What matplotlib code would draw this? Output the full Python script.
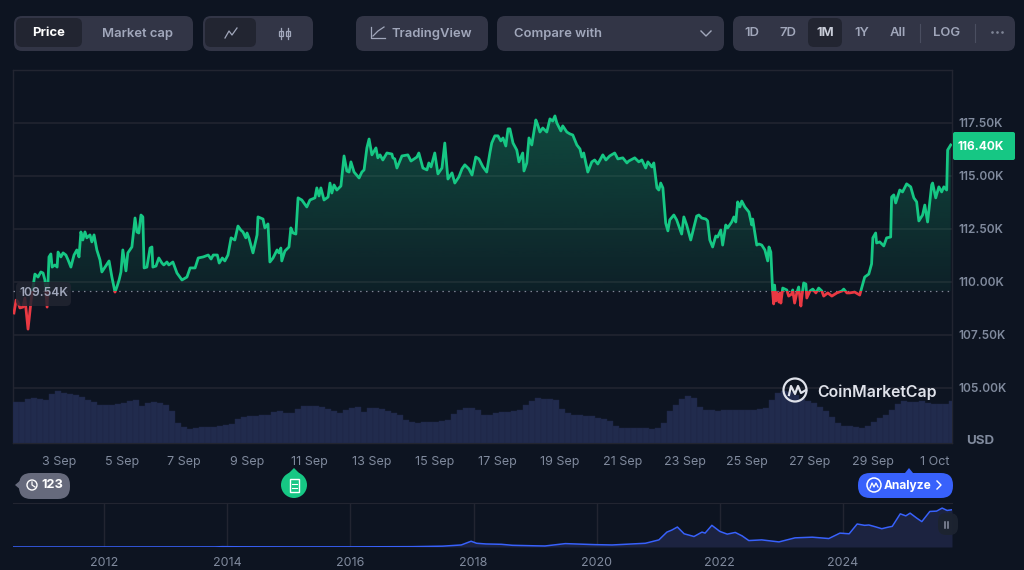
#!/usr/bin/env python3
"""CoinMarketCap style BTC price chart, one month view with volume and navigator."""
import matplotlib

matplotlib.use("Agg")
import matplotlib.pyplot as plt
import numpy as np
from matplotlib.patches import Circle, FancyBboxPatch, Polygon, Rectangle
from matplotlib.ticker import FuncFormatter

plt.rcParams["font.family"] = ["Inter", "DejaVu Sans"]

BG = "#0d1421"
PANEL = "#323546"
ACTIVE = "#222531"
GRID = "#222531"
MUTED = "#a1a7bb"
AXIS_TEXT = "#808a9d"
GREEN = "#16c784"
RED = "#ea3943"
BLUE = "#3861fb"

# price series, x is day of September (1 Oct = 31), y is USD thousands
price_days = [
    1.56, 1.63, 1.69, 1.75, 1.85, 1.91, 2.01, 2.11, 2.20, 2.23, 2.33, 2.42, 2.49, 2.55, 2.62, 2.68,
    2.74, 2.78, 2.87, 2.94, 2.97, 3.06, 3.13, 3.22, 3.29, 3.38, 3.48, 3.57, 3.64, 3.70, 3.76, 3.83,
    3.89, 3.99, 4.05, 4.12, 4.21, 4.31, 4.37, 4.47, 4.60, 4.69, 4.79, 4.85, 4.92, 4.98, 5.04, 5.14,
    5.20, 5.33, 5.43, 5.49, 5.55, 5.62, 5.68, 5.72, 5.81, 5.91, 5.97, 6.00, 6.10, 6.19, 6.29, 6.35,
    6.45, 6.51, 6.64, 6.77, 6.93, 7.09, 7.19, 7.35, 7.45, 7.61, 7.77, 7.86, 7.93, 8.06, 8.12, 8.22,
    8.30, 8.40, 8.50, 8.62, 8.72, 8.81, 8.88, 8.97, 9.01, 9.07, 9.20, 9.33, 9.36, 9.52, 9.58, 9.68,
    9.74, 9.84, 9.97, 10.03, 10.09, 10.12, 10.22, 10.35, 10.41, 10.48, 10.57, 10.64, 10.76, 10.92,
    11.02, 11.18, 11.24, 11.31, 11.37, 11.47, 11.60, 11.66, 11.72, 11.79, 11.88, 12.01, 12.11, 12.20,
    12.27, 12.33, 12.43, 12.59, 12.68, 12.75, 12.84, 12.91, 13.00, 13.13, 13.19, 13.26, 13.35, 13.48,
    13.64, 13.67, 13.73, 13.80, 13.96, 14.15, 14.25, 14.44, 14.50, 14.63, 14.76, 14.82, 14.89, 15.01,
    15.11, 15.24, 15.33, 15.43, 15.56, 15.65, 15.78, 15.88, 15.97, 16.10, 16.20, 16.32, 16.42, 16.55,
    16.67, 16.77, 16.83, 16.93, 17.03, 17.12, 17.19, 17.28, 17.35, 17.41, 17.51, 17.63, 17.70, 17.82,
    17.86, 17.95, 18.02, 18.11, 18.24, 18.30, 18.37, 18.46, 18.59, 18.69, 18.78, 18.85, 18.91, 19.04,
    19.10, 19.23, 19.33, 19.42, 19.55, 19.65, 19.71, 19.77, 19.90, 20.03, 20.12, 20.22, 20.38, 20.48,
    20.60, 20.76, 20.86, 21.02, 21.15, 21.21, 21.40, 21.53, 21.63, 21.75, 21.82, 21.95, 22.01, 22.11,
    22.17, 22.23, 22.30, 22.39, 22.46, 22.52, 22.65, 22.74, 22.90, 22.97, 23.06, 23.19, 23.38, 23.45,
    23.54, 23.67, 23.73, 23.80, 23.89, 23.99, 24.05, 24.15, 24.21, 24.31, 24.37, 24.50, 24.57, 24.63,
    24.69, 24.76, 24.82, 24.92, 25.05, 25.14, 25.17, 25.30, 25.37, 25.46, 25.56, 25.65, 25.69, 25.75,
    25.81, 25.84, 25.87, 25.91, 25.94, 26.01, 26.04, 26.07, 26.13, 26.26, 26.32, 26.42, 26.45, 26.51,
    26.58, 26.64, 26.71, 26.74, 26.80, 26.87, 26.90, 27.00, 27.09, 27.19, 27.28, 27.38, 27.44, 27.57,
    27.70, 27.86, 28.02, 28.08, 28.18, 28.27, 28.43, 28.59, 28.66, 28.75, 28.88, 28.97, 29.01, 29.10,
    29.13, 29.23, 29.36, 29.45, 29.58, 29.61, 29.68, 29.74, 29.87, 29.96, 30.09, 30.22, 30.32, 30.41,
    30.48, 30.60, 30.67, 30.76, 30.89, 30.92, 31.02, 31.12, 31.21, 31.28, 31.37, 31.40, 31.50,
]
price_values = [
    108.52, 109.13, 109.04, 108.76, 108.80, 109.23, 107.76, 109.13, 110.08, 110.36, 110.22, 110.46,
    110.41, 110.08, 108.80, 111.17, 111.31, 110.69, 110.79, 110.69, 111.40, 111.17, 111.36, 111.26,
    111.03, 110.69, 111.26, 111.50, 111.17, 112.35, 111.97, 112.35, 112.07, 112.21, 111.88, 112.21,
    111.50, 111.03, 110.46, 110.69, 110.98, 110.22, 109.51, 109.75, 110.08, 110.46, 111.50, 110.51,
    111.36, 111.64, 113.01, 112.35, 112.30, 113.15, 113.06, 110.65, 110.69, 111.59, 111.64, 110.69,
    110.74, 111.12, 110.88, 110.79, 110.93, 110.79, 110.93, 110.41, 110.08, 110.22, 110.65, 110.65,
    111.12, 111.17, 111.26, 111.07, 111.26, 111.26, 110.88, 111.12, 110.98, 111.26, 112.07, 111.97,
    112.63, 112.44, 112.35, 112.07, 112.30, 112.07, 111.36, 112.21, 113.06, 112.96, 112.54, 112.73,
    110.93, 111.12, 111.50, 111.36, 111.59, 110.98, 111.45, 111.64, 112.54, 112.30, 112.25, 113.96,
    113.86, 113.53, 113.86, 113.96, 114.43, 114.05, 114.43, 113.86, 114.00, 114.66, 114.19, 114.57,
    114.33, 114.52, 115.94, 115.23, 115.18, 115.66, 115.18, 114.90, 115.18, 115.28, 116.32, 116.74,
    115.99, 116.32, 115.85, 115.99, 115.75, 116.08, 116.03, 115.85, 115.80, 115.37, 115.94, 115.99,
    115.70, 115.89, 116.08, 115.37, 115.28, 115.61, 115.42, 116.08, 115.09, 115.37, 116.55, 114.85,
    115.14, 114.66, 114.95, 115.33, 115.52, 115.33, 115.04, 115.89, 115.80, 115.42, 115.18, 116.08,
    116.55, 116.89, 116.89, 116.65, 116.79, 116.41, 117.22, 117.22, 116.55, 116.22, 115.66, 116.08,
    115.23, 115.61, 116.79, 116.46, 117.64, 117.41, 117.07, 117.26, 117.07, 117.69, 117.59, 117.83,
    117.50, 117.12, 117.36, 117.07, 116.98, 116.93, 116.46, 116.27, 115.89, 116.08, 115.18, 115.66,
    115.75, 115.56, 115.99, 115.75, 115.94, 116.08, 115.80, 115.85, 115.61, 115.70, 115.85, 115.66,
    115.75, 115.37, 115.66, 115.42, 115.61, 114.43, 114.33, 114.66, 114.43, 112.77, 112.40, 112.92,
    113.15, 112.92, 112.25, 113.06, 112.68, 111.97, 113.10, 113.15, 113.01, 112.96, 112.87, 111.97,
    111.64, 112.16, 112.11, 112.44, 111.73, 112.68, 112.54, 112.82, 113.06, 112.82, 113.77, 113.53,
    113.81, 113.53, 113.29, 112.68, 112.96, 111.73, 111.78, 111.73, 111.50, 110.98, 111.64, 111.40,
    109.47, 108.95, 109.84, 109.09, 109.47, 109.04, 109.47, 108.99, 109.70, 109.61, 109.32, 109.42,
    109.61, 108.99, 109.47, 109.75, 108.85, 109.28, 109.94, 109.89, 109.23, 109.56, 109.65, 109.47,
    109.70, 109.56, 109.32, 109.47, 109.32, 109.47, 109.56, 109.65, 109.47, 109.47, 109.51, 109.37,
    109.75, 110.22, 110.36, 110.84, 112.07, 112.30, 111.83, 111.88, 111.69, 112.07, 112.11, 114.00,
    114.10, 113.72, 114.33, 114.24, 114.62, 114.48, 113.96, 113.77, 112.87, 113.15, 113.62, 112.82,
    114.57, 114.66, 113.96, 114.48, 114.24, 114.48, 114.33, 116.22, 116.46,
]
base_price = 109.54
last_price = 116.40

price_ticks = [105.0, 107.5, 110.0, 112.5, 115.0, 117.5]
day_ticks = [3, 5, 7, 9, 11, 13, 15, 17, 19, 21, 23, 25, 27, 29, 31]
day_labels = ["3 Sep", "5 Sep", "7 Sep", "9 Sep", "11 Sep", "13 Sep", "15 Sep", "17 Sep", "19 Sep",
              "21 Sep", "23 Sep", "25 Sep", "27 Sep", "29 Sep", "1 Oct"]

# volume per bucket, arbitrary units
volume_values = [
    41, 41, 44, 45, 44, 43, 49, 52, 50, 49, 48, 46, 43, 41, 38, 38, 38, 39, 40, 42, 43, 37, 40, 41,
    40, 38, 32, 20, 16, 14, 15, 16, 16, 16, 17, 18, 19, 24, 26, 27, 27, 28, 28, 31, 32, 30, 30, 34,
    37, 37, 37, 36, 34, 32, 30, 33, 35, 36, 31, 35, 35, 34, 32, 30, 28, 23, 21, 20, 21, 21, 21, 22,
    23, 29, 33, 35, 35, 33, 28, 28, 30, 31, 31, 32, 33, 38, 42, 45, 44, 44, 43, 34, 30, 28, 28, 27,
    27, 25, 24, 22, 17, 15, 15, 15, 15, 15, 14, 15, 20, 32, 38, 44, 47, 45, 36, 33, 33, 32, 33, 33,
    33, 33, 33, 33, 34, 35, 43, 50, 52, 51, 48, 44, 42, 40, 36, 32, 26, 20, 17, 17, 16, 15, 17, 21,
    25, 28, 33, 39, 42, 41, 41, 42, 40, 39, 39, 39, 42,
]
volume_start = 1.53
volume_step = 0.1917

# all-time navigator, x is calendar year, y is USD thousands
nav_years = [
    2010.52, 2012.0, 2013.8, 2013.92, 2014.2, 2015.0, 2016.0, 2017.0, 2017.5, 2017.8, 2017.96, 2018.05,
    2018.2, 2018.45, 2018.63, 2019.0, 2019.16, 2019.49, 2019.97, 2020.25, 2020.79, 2021.01, 2021.14,
    2021.22, 2021.31, 2021.42, 2021.58, 2021.71, 2021.76, 2021.87, 2022.0, 2022.12, 2022.25, 2022.36,
    2022.47, 2022.68, 2022.96, 2023.22, 2023.5, 2023.77, 2023.95, 2024.10, 2024.23, 2024.35, 2024.42,
    2024.52, 2024.63, 2024.72, 2024.80, 2024.93, 2025.02, 2025.09, 2025.2, 2025.28, 2025.41, 2025.52,
    2025.61, 2025.69, 2025.77,
]
nav_values = [
    0.1, 0.1, 0.2, 1.0, 0.6, 0.3, 0.4, 1.0, 2.5, 6.0, 17.0, 11.0, 9.0, 8.0, 5.0, 3.5, 3.0, 10.0, 7.0,
    6.0, 11.0, 21.0, 44.0, 50.0, 59.0, 39.0, 31.0, 44.0, 41.0, 64.0, 46.0, 38.0, 43.0, 33.0, 19.0,
    21.0, 15.0, 27.0, 29.0, 25.0, 41.0, 39.0, 68.0, 64.0, 65.0, 60.0, 54.0, 58.0, 61.0, 98.0, 92.0,
    100.0, 85.0, 75.0, 105.0, 106.0, 115.0, 108.0, 110.0,
]
nav_ticks = [2012, 2014, 2016, 2018, 2020, 2022, 2024]

W, H = 1024, 570
fig = plt.figure(figsize=(W / 100, H / 100), dpi=100, facecolor=BG)


def axes_from_px(left, top, right, bottom):
    return fig.add_axes([left / W, 1 - bottom / H, (right - left) / W, (bottom - top) / H])


# price panel
ax = axes_from_px(13, 70, 952, 443)
ax.set_facecolor(BG)
x0, x1 = 1.53, 31.54
y0, y1 = 102.38, 120.0
days = np.array(price_days)
prices = np.array(price_values)

grad = np.zeros((256, 1, 4))
grad[..., :3] = matplotlib.colors.to_rgb(GREEN)
grad[:, 0, 3] = np.linspace(0.30, 0.07, 256)
img = ax.imshow(grad, extent=(x0, x1, base_price, max(prices)), aspect="auto", origin="upper", zorder=1)
area = Polygon(
    np.column_stack([np.r_[days, days[::-1]], np.r_[np.maximum(prices, base_price), np.full(len(days), base_price)]]),
    closed=True, transform=ax.transData, facecolor="none", edgecolor="none",
)
ax.add_patch(area)
img.set_clip_path(area)

green_line, = ax.plot(days, prices, color=GREEN, lw=2.0, zorder=4, solid_joinstyle="round")
green_line.set_clip_path(Rectangle((x0, base_price), x1 - x0, y1 - base_price, transform=ax.transData))
red_line, = ax.plot(days, prices, color=RED, lw=2.0, zorder=4, solid_joinstyle="round")
red_line.set_clip_path(Rectangle((x0, y0), x1 - x0, base_price - y0, transform=ax.transData))
ax.axhline(base_price, color="#7f8596", lw=0.9, dashes=(1.2, 3.5), zorder=3)

ax.set_xlim(x0, x1)
ax.set_ylim(y0, y1)
ax.set_yticks(price_ticks)
ax.yaxis.set_major_formatter(FuncFormatter(lambda v, _: f"{v:.2f}K"))
ax.yaxis.tick_right()
ax.set_xticks(day_ticks)
ax.set_xticklabels(day_labels)
ax.tick_params(axis="y", length=0, pad=4.5, labelsize=8.5, labelcolor=AXIS_TEXT)
ax.tick_params(axis="x", length=0, pad=9.5, labelsize=9, labelcolor=AXIS_TEXT)
for tick_label in ax.get_yticklabels():
    tick_label.set_fontweight("semibold")
ax.grid(axis="y", color=GRID, lw=1.1)
ax.set_axisbelow(True)
for spine in ax.spines.values():
    spine.set_color(GRID)
    spine.set_linewidth(1.0)

# volume bars share the bottom of the price panel
vol_ax = axes_from_px(13, 383, 952, 443)
vol_ax.patch.set_alpha(0)
vol_days = volume_start + volume_step * np.arange(len(volume_values)) + volume_step / 2
vol_ax.bar(vol_days, volume_values, width=volume_step, color="#212b4d", edgecolor="#1d2644", linewidth=0.3)
vol_ax.set_xlim(x0, x1)
vol_ax.set_ylim(0, 60)
vol_ax.axis("off")

# navigator
nav = axes_from_px(13, 503, 952, 547)
nav.set_facecolor(BG)
nav.fill_between(nav_years, nav_values, 0, color="#1c2340", lw=0)
nav.plot(nav_years, nav_values, color=BLUE, lw=1.1)
nav.set_xlim(2010.52, 2025.77)
nav.set_ylim(0, 130)
nav.set_xticks(nav_ticks)
nav.set_xticklabels([str(y) for y in nav_ticks])
nav.set_yticks([])
nav.tick_params(axis="x", length=0, pad=7, labelsize=9, labelcolor=AXIS_TEXT)
nav.grid(axis="x", color=GRID, lw=1.0)
nav.set_axisbelow(True)
for side, spine in nav.spines.items():
    spine.set_visible(side == "top")
    spine.set_color(GRID)

# page furniture in pixel coordinates
ui = fig.add_axes([0, 0, 1, 1], zorder=10)
ui.set_xlim(0, W)
ui.set_ylim(H, 0)
ui.axis("off")
ui.patch.set_alpha(0)


def box(left, top, right, bottom, color, radius=8, alpha=1.0):
    ui.add_patch(FancyBboxPatch((left, top), right - left, bottom - top, boxstyle=f"round,pad=0,rounding_size={radius}",
                                facecolor=color, edgecolor="none", alpha=alpha))


def label(x, y, text, color=MUTED, size=9.4, ha="center", weight="semibold"):
    # Inter sits a little high with va=center
    ui.text(x, y + 1.5, text, color=color, fontsize=size, ha=ha, va="center", fontweight=weight)


box(14, 16, 193, 51, PANEL)
box(16, 18, 82, 47, ACTIVE, 6)
label(49, 32, "Price", "white", weight="bold")
label(138, 32, "Market cap")

box(203, 16, 313, 51, PANEL)
box(205, 18, 256, 47, ACTIVE, 6)
ui.plot([225, 229, 232, 237], [38, 31, 35, 28], color=MUTED, lw=0.9)
for cx, top, bot in [(281, 29, 38), (288, 29, 38)]:
    ui.add_patch(Rectangle((cx - 2, top + 2), 4, bot - top - 4, fill=False, edgecolor=MUTED, lw=0.9))
    ui.plot([cx, cx], [top - 1, bot + 1], color=MUTED, lw=0.9, zorder=1)

box(356, 16, 488, 51, PANEL)
ui.plot([371, 371, 385], [27, 38, 38], color=MUTED, lw=0.9)
ui.plot([373, 378, 384], [36, 31, 27], color=MUTED, lw=0.9)
label(432, 32, "TradingView")

box(497, 16, 724, 51, PANEL)
label(514, 33, "Compare with", ha="left")
ui.plot([701, 706, 711], [31, 36, 31], color=MUTED, lw=1.0)

box(733, 16, 1015, 51, PANEL)
box(808, 18, 842, 47, ACTIVE, 6)
for cx, text in [(752, "1D"), (788, "7D"), (862, "1Y"), (898, "All"), (947, "LOG")]:
    label(cx, 32, text)
label(825, 32, "1M", "#c8ccd8", weight="bold")
ui.plot([920, 920], [24, 42], color="#4a4e60", lw=0.8)
ui.plot([975, 975], [24, 42], color="#4a4e60", lw=0.8)
ui.scatter([992, 997, 1002], [32, 32, 32], s=0.8, color="#7f8596")

# last price and reference price tags
box(953, 132, 1015, 160, GREEN, 2)
label(981, 145, f"{last_price:.2f}K", "white", 8.6, weight="bold")
box(16, 282, 71, 306, "#222531", 5, 0.85)
label(44, 291, f"{base_price:.2f}K", "#a1a7bb", 8.7)
label(980, 439, "USD", AXIS_TEXT, 9.6, weight="bold")

# watermark
ui.add_patch(Circle((795, 390), 11.5, fill=False, edgecolor="#dfe2ea", lw=1.6))
ui.plot([789, 791, 795, 798, 801, 806], [395, 386, 394, 386, 393, 390], color="#dfe2ea", lw=1.6)
label(877, 391, "CoinMarketCap", "#dfe2ea", 11.4)

# history tag
ui.add_patch(Polygon([[15, 485], [22, 479], [22, 491]], facecolor="#666a7c", edgecolor="none"))
box(19, 473, 70, 499, "#666a7c", 12)
ui.add_patch(Circle((32, 485), 5, fill=False, edgecolor="white", lw=1.0))
ui.plot([32, 32, 35], [482, 485, 487], color="white", lw=0.9)
label(52, 484, "123", "white", 9.2, weight="bold")

# news pin
ui.add_patch(Polygon([[294, 468], [288, 474], [300, 474]], facecolor=GREEN, edgecolor="none"))
ui.add_patch(Circle((294, 485), 13, facecolor=GREEN, edgecolor="none"))
ui.add_patch(Rectangle((289.5, 478.5), 9, 13, fill=False, edgecolor="white", lw=1.0))
ui.plot([291.5, 296.5], [484, 484], color="white", lw=0.8)
ui.plot([291.5, 296.5], [487.5, 487.5], color="white", lw=0.8)

# analyze button
ui.add_patch(Polygon([[905, 473], [909, 468], [913, 473]], facecolor=BLUE, edgecolor="none"))
box(858, 473, 953, 498, BLUE, 12)
ui.add_patch(Circle((874, 485), 7, fill=False, edgecolor="white", lw=1.1))
ui.plot([870, 872, 874, 876, 878], [488, 483, 487, 483, 487], color="white", lw=0.9)
label(908, 484, "Analyze", "white", 8.6, weight="bold")
ui.plot([937, 941, 937], [481, 485, 489], color="white", lw=1.0)

# navigator handle
box(938, 513, 958, 535, "#1c2330", 8, 0.95)
ui.plot([944.5, 944.5], [522, 528], color="#8a90a2", lw=1.1)
ui.plot([947.5, 947.5], [522, 528], color="#8a90a2", lw=1.1)

fig.savefig("out.png", dpi=100, facecolor=BG)
